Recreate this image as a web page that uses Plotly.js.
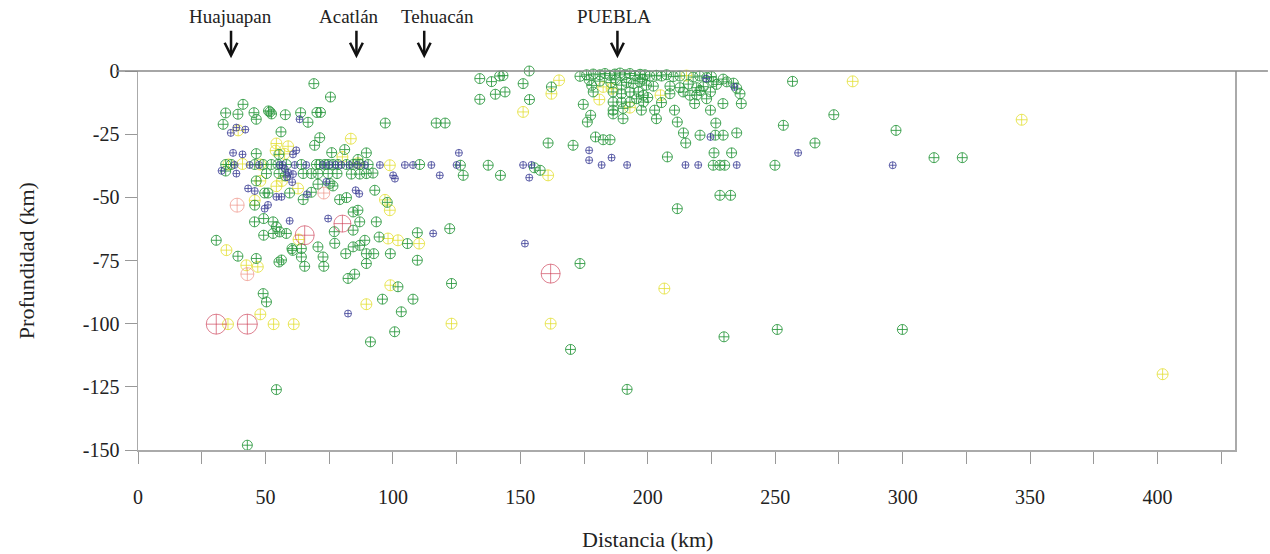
<!DOCTYPE html>
<html><head><meta charset="utf-8">
<script src="https://cdn.plot.ly/plotly-3.0.1.min.js"></script>
<style>html,body{margin:0;padding:0;background:#fff}#chart{width:1270px;height:554px}</style>
</head><body><div id="chart"></div>
<script>
// ---- data: distance (km) and depth (km) of events, grouped by marker class ----
const greenX = [69,75.5,41.2,34.4,39.2,45.5,51.2,52.4,51.8,57.8,63.8,70.2,71.6,66.7,46.4,33.4,97,117,120.5,56.1,71.3,69.3,46.4,55.3,76,81.1,86.3,89.6,
 34.4,36.6,45.8,49.1,52.3,54.9,58.2,64.1,70,71.3,73.3,74.6,76.5,78.5,81.8,84.4,87,90.3,110.5,126.5,137.4,
 34.4,46.4,50.4,55.3,57.8,64.8,68,70.6,74.6,78.1,83.7,87,89.6,92.2,127.6,142.2,157.8,155.5,
 49.7,51,59.5,64.8,68,70.6,75.3,76.5,79.1,81.8,84.4,92.9,97.8,45.8,45.7,49.3,53,54.3,49.3,53,55.6,58.2,60.4,64.1,55.3,56.3,64.1,65.4,70.6,72.6,72.9,77,84.4,81.5,84.4,87,89,86.3,87,89.6,92.5,89.6,93.5,94.6,105.7,109.6,99,109.6,82.4,85,102,95.9,107.9,103.3,100.7,91.2,49.1,50.4,54.3,42.9,30.7,39.2,46.4,77.2,60.7,
 122.3,123,173.4,169.7,191.9,229.9,211.6,228.3,232.5,179.5,182.5,185.2,160.9,170.7,214.9,214,220.5,226.5,229.6,234.9,226.7,226,232.9,207.7,225.7,228.3,230.2,
 134.1,138.7,141.9,143.2,153.5,151.1,134.1,140.2,144,153.6,162.2,
 173.4,176,178.6,181.2,183.2,185.1,187.1,189.1,191,193,195,197,198.9,200.8,203.4,205.4,207.4,210,212.6,217.8,220.4,223.1,225,
 178,185.5,189.7,191.7,194.3,196.9,199.5,202.2,208.7,212.6,215.9,219.2,221.8,225.7,187.5,198,
 178.6,186.4,189.7,193,196.3,198.3,208.7,213.9,216.5,220.5,224.6,233.6,234.9,236.2,
 174.7,186.4,189.7,193,195.6,198.3,186.4,190.3,197.5,202.7,210.5,218.4,229.5,236.7,224.6,177.6,176.3,190.3,186.4,203.4,211.6,200,205.4,181.2,177,219.2,223.1,227,229.6,231,
 256.8,273,253.2,265.6,249.9,297.4,312.3,323.4,250.8,299.9];
const greenY = [-5,-10.3,-13.2,-16.6,-17.1,-16.5,-15.8,-17,-16.2,-17.3,-16.5,-16.4,-16.4,-20.3,-19.1,-21.1,-20.6,-20.6,-20.6,-24.1,-26.4,-29.4,-32.7,-33,-32.3,-31.1,-35,-32.4,
 -37,-37,-37,-37,-37,-37,-37,-37,-37,-37,-37,-37,-37,-37,-37,-37,-37,-37,-37,-37.3,-37.3,
 -39.6,-43.5,-40.6,-40.6,-41.5,-40.6,-40.6,-40.6,-40.6,-40.6,-40.8,-40.8,-40.6,-40.4,-41.3,-41.3,-39.3,-38.3,
 -48.3,-48.3,-48.3,-50.9,-48,-44.8,-44.5,-45.5,-50.9,-50.1,-55.8,-47.2,-52,-53.1,-59.7,-58.4,-59.7,-61.7,-65,-64.3,-63.7,-64.3,-70.3,-70.3,-75.6,-74.8,-73.6,-77.3,-69.6,-73.6,-77.3,-63.6,-63,-72.3,-69.6,-69,-67,-55.1,-59.7,-72.3,-72.3,-76.2,-59.7,-65.7,-68.3,-64,-72.3,-74.9,-82.1,-80.4,-85.4,-90.3,-90.3,-95.3,-103.2,-107.2,-88.1,-91.4,-126.1,-148.1,-67,-73.3,-74.2,-68.2,-71,
 -62.4,-84.1,-76.2,-110.2,-126,-105.2,-54.5,-49.2,-49.2,-26.1,-27.2,-27.2,-28.5,-29.4,-28.5,-24.5,-25.4,-25.4,-25.4,-24.5,-20.6,-32.4,-32.4,-34,-37.3,-37.3,-37.3,
 -3,-4.2,-2,-1.8,0,-5,-11.2,-9.2,-8.3,-11.3,-6.3,
 -2.1,-1.5,-1.2,-1.5,-1,-1.7,-1.2,-0.8,-1.5,-1,-1.8,-1.3,-1.5,-2,-1.7,-2,-1.5,-2.2,-2,-2.4,-2,-2.6,-2.2,
 -5.7,-4.6,-5.6,-4.5,-5,-4.3,-5.6,-6,-6,-6.6,-5.2,-6.6,-6.2,-4.3,-3.5,-3.2,
 -8.3,-8.3,-9,-8.3,-8.3,-9.6,-9,-8.3,-9.6,-7.7,-8.3,-4.8,-6.8,-9,
 -13.2,-12.3,-12.3,-12.3,-11,-12.3,-15.5,-14.8,-15.5,-15.5,-15.5,-12.9,-12.9,-12.9,-15.5,-17.5,-20.2,-18.9,-17,-18.9,-20.2,-10.5,-12.5,-4,-3.5,-9.5,-11,-5.3,-3.2,-4.3,
 -4.1,-17.3,-21.5,-28.5,-37.3,-23.5,-34.3,-34.3,-102.3,-102.3];

const blueX = [36.4,38.6,42.1,63.4,37.3,41,60.8,62.1,43.2,45.8,49.7,51,54.3,56.3,59.5,66.3,73.9,74.6,85.4,86.8,82.4,115.8,57.6,59,58.5,60.5,32.8,38.6,60.8,100.1,100.8,118.4,153.5,125.9,151.8,177,177,185.8,224.6,222.9,234,259,296.1,
 37.9,43.8,47.5,55.5,56.8,61.5,66,72.5,75,77.5,79.8,83,86,89,94.9,104.7,107.9,115.1,125,151.1,154.4,181.9,191.9,214.8,219.8,234.9];
const blueY = [-24.5,-22.4,-23.2,-19.1,-32.4,-33,-33,-31.4,-46.5,-47.5,-54.5,-53,-49.8,-49.8,-59.3,-48.8,-43.9,-58.4,-47.2,-48.6,-96,-64.3,-38.8,-40.3,-42,-44,-39.5,-40.6,-40.8,-41.3,-42.6,-41.3,-42.2,-32.4,-68.3,-31.4,-35.3,-34.3,-26.1,-3,-6.3,-32.4,-37.3,
 -37.2,-37.2,-37.2,-37.2,-37.2,-37.2,-37.2,-37.2,-37.2,-37.2,-37.2,-37.2,-37.2,-37.2,-37.2,-37.2,-37.2,-37.2,-37.2,-37.2,-37.2,-37.2,-37.2,-37.2,-37.2,-37.2];

const yellowX = [83.5,54.3,58.9,54,57.5,80.2,35.5,48,98.8,39.3,48,56.5,54.3,62.8,96.9,98.8,63,34.7,42.5,47,98.1,102,110.3,99,89.6,48,35.3,53.2,61.1,123,161.9,206.5,160.9,151.1,162.2,165.2,181,182.5,185.8,205,215.2,193,280.4,346.7,402,45.8,41,86.3];
const yellowY = [-26.8,-28.7,-29.8,-31.5,-32.8,-34,-37,-37,-37.3,-23.5,-43.5,-43.5,-45.6,-46.5,-51,-55.1,-66.7,-70.9,-76.9,-77.5,-66.3,-67,-68.3,-84.8,-92.3,-96.3,-100.2,-100.2,-100.2,-100,-100,-86.1,-41.3,-16.2,-9,-3.7,-11.3,-6.3,-7,-9.6,-1.8,-14.5,-4.1,-19.3,-120,-51.2,-36.8,-36.5];

const redX = [30.7,42.9,65.4,80.2,161.9];
const redY = [-100.2,-100.2,-65,-60.4,-80.2];
const redSize = [20,20,19,17,19];
const paleRedX = [38.9,42.9,72.9];
const paleRedY = [-53.1,-80.4,-48.3];
const paleRedSize = [14,13,12];

// towns along the profile
const cityNames = ['Huajuapan','Acatlán','Tehuacán','PUEBLA'];
const cityArrowX = [36.5,85.7,112.3,188.1];
const cityLabelX = [36.2,82.7,117.4,186.9];
const stationX = [36.3,84.8,87.2,112.3,134.8];
const stationY = [1.1,1.1,1.1,1.1,1.1];
const urbanX = [180,197];
const urbanY = [0.6,0.6];

// axis ticks
const xTickStep = 50, xMinorStep = 25;
const yTickVals = [0,-25,-50,-75,-100,-125,-150];
const yTickText = ['0','-25','-50','-75','-100','-125','-150'];

const serif = 'Liberation Serif, serif';

function mk(x, y, color, size, name) {
  return {type:'scatter', mode:'markers', x:x, y:y, name:name, cliponaxis:false, hoverinfo:'x+y',
    marker:{symbol:'circle-cross-open', size:size, color:color, line:{width:1, color:color}}};
}
const traces = [
  mk(yellowX, yellowY, 'rgba(226,222,40,0.75)', 11, 'amarillo'),
  mk(greenX, greenY, 'rgba(40,150,60,0.85)', 10, 'verde'),
  mk(blueX, blueY, 'rgba(60,62,150,0.8)', 7, 'azul'),
  mk(paleRedX, paleRedY, 'rgba(235,130,115,0.85)', paleRedSize, 'rojo claro'),
  mk(redX, redY, 'rgba(200,45,70,0.85)', redSize, 'rojo'),
  {type:'scatter', mode:'markers', x:stationX, y:stationY, cliponaxis:false, hoverinfo:'skip',
   marker:{symbol:'square-open', size:6, color:'#999', line:{width:1, color:'#999'}}},
  {type:'scatter', mode:'lines', x:urbanX, y:urbanY, cliponaxis:false, hoverinfo:'skip',
   line:{color:'#777', width:4}}
];

const annotations = [];
cityNames.forEach((n, i) => {
  annotations.push({x:cityArrowX[i], xref:'x', y:1.0335, yref:'paper', text:' ', font:{size:2},
    showarrow:true, ax:0, ay:-30, arrowhead:5, arrowsize:1, arrowwidth:2.5, arrowcolor:'#111'});
  annotations.push({x:cityLabelX[i], xref:'x', y:1.143, yref:'paper', text:n, showarrow:false,
    yanchor:'middle', font:{size:19, color:'#222', family:serif}});
});
annotations.push({text:'Distancia (km)', xref:'paper', x:0.4648, yref:'paper', y:-0.2373, showarrow:false,
  yanchor:'middle', font:{size:22, color:'#222', family:serif}});
annotations.push({text:'Profundidad (km)', textangle:-90, xref:'paper', x:-0.1015, yref:'paper', y:0.5,
  showarrow:false, xanchor:'center', yanchor:'middle', font:{size:22, color:'#222', family:serif}});

const layout = {
  width:1270, height:554,
  margin:{l:138, r:35, t:71, b:104, pad:0},
  paper_bgcolor:'#fff', plot_bgcolor:'#fff',
  showlegend:false,
  font:{family:serif, size:20, color:'#222'},
  xaxis:{range:[0,430.4], tick0:0, dtick:xTickStep, ticks:'outside', ticklen:12, tickwidth:1, tickcolor:'#999',
    showline:true, linecolor:'#aaa', linewidth:1.5, showgrid:false, zeroline:false, ticklabelstandoff:16,
    minor:{dtick:xMinorStep, tick0:0, ticks:'outside', ticklen:12, tickwidth:1, tickcolor:'#999', showgrid:false}},
  yaxis:{range:[-150,0], tickmode:'array', tickvals:yTickVals, ticktext:yTickText, ticks:'outside', ticklen:12, tickwidth:1, tickcolor:'#999',
    showline:true, mirror:true, linecolor:'#aaa', linewidth:1.5, showgrid:false, zeroline:false, ticklabelstandoff:1},
  shapes:[{type:'line', xref:'paper', yref:'paper', x0:-0.02, x1:1.03, y0:1, y1:1, line:{color:'#888', width:1.5}}],
  annotations:annotations
};
Plotly.newPlot('chart', traces, layout, {displayModeBar:false, staticPlot:true});
</script></body></html>
